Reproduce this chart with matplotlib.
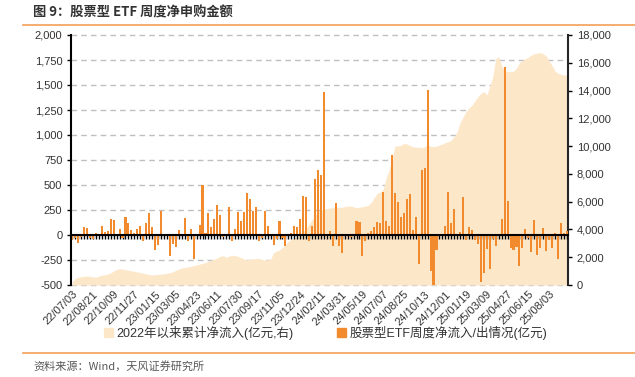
import numpy as np
import pandas as pd
import matplotlib
matplotlib.use('Agg')
import matplotlib.pyplot as plt
from matplotlib.patches import Patch
from matplotlib.lines import Line2D
from matplotlib.ticker import FuncFormatter
import matplotlib.transforms as mtransforms

plt.rcParams['font.family'] = ['Liberation Sans', 'Noto Sans CJK SC']

# ---------------- data ----------------
start_date = '2022-07-03'

weekly_flow = [
    -50, -25, -83, -20, 83, 67, -30, -40, 20, 10,
    90, 30, 40, 157, 150, 5, 60, -30, 180, 117,
    50, 20, 60, 87, -57, 117, 220, 77, -147, -97,
    237, 5, -10, -207, -93, -123, 50, 5, 170, -57,
    57, -237, 5, 100, 505, 25, 220, 77, 160, 297,
    197, -20, -10, 280, -60, 57, 230, 143, 233, 417,
    360, 243, 280, -60, -33, 237, 87, -10, -100, -43,
    140, -33, -107, 5, 20, 93, 80, 160, 387, 377,
    -57, 87, 563, 650, 597, 1433, 0, 40, -107, 323,
    -107, -183, -10, 5, -15, 5, 137, 130, -207, -57,
    23, 40, 83, 130, 117, 427, 143, 90, 797, 420,
    333, 177, 220, 357, 413, 50, 177, -293, 647, 667,
    1447, -357, -500, -150, 10, 0, 93, 430, 123, 263,
    0, 30, 380, -50, 77, 53, -50, -90, -467, -383,
    -143, -340, -43, -107, 10, 160, 1680, 340, -133, -150,
    -117, -307, -133, 57, -33, -173, 147, -200, -133, 73,
    -157, -50, -133, 17, -240, 123, 23, 40,
]

cumulative_flow = [
    200, 480, 540, 600, 620, 650, 620, 580, 560, 630,
    700, 740, 790, 880, 1000, 1120, 1190, 1130, 1100, 1060,
    1020, 980, 940, 890, 850, 800, 750, 720, 740, 760,
    780, 810, 840, 880, 950, 1060, 1140, 1220, 1260, 1300,
    1340, 1390, 1440, 1500, 1560, 1620, 1700, 1800, 1850, 1950,
    2080, 2100, 2000, 2080, 2140, 2120, 2060, 1970, 1870, 1810,
    1860, 1890, 1910, 1920, 1850, 1800, 1820, 1850, 2330, 2430,
    2540, 2700, 2900, 3150, 3280, 3400, 3500, 3600, 3850, 4100,
    4400, 4700, 5000, 5300, 5400, 5450, 5500, 5550, 5570, 5570,
    5570, 5600, 5650, 5680, 5690, 5620, 5570, 5600, 5640, 5680,
    5750, 5950, 6300, 6600, 6680, 6900, 7700, 8300, 9120, 10010,
    10010, 10050, 10200, 10150, 10050, 9960, 9930, 9910, 9890, 9950,
    10080, 10000, 9960, 10000, 10080, 10150, 10250, 10320, 10440, 10700,
    11040, 11700, 12100, 12500, 12750, 12950, 13250, 13550, 13800, 13920,
    13680, 14300, 15000, 16300, 16440, 15800, 15450, 15360, 15360, 15400,
    15600, 16000, 16150, 16300, 16400, 16560, 16650, 16700, 16730, 16650,
    16500, 16150, 15800, 15400, 15250, 15170, 15120, 15120,
]

weeks = pd.date_range(start_date, periods=len(weekly_flow), freq='7D')
week_labels = [d.strftime('%y/%m/%d') for d in weeks]
label_step = 7
left_ticks = np.arange(-500, 2001, 250)
right_ticks = np.arange(0, 18001, 2000)

series_names = ['2022年以来累计净流入(亿元,右)', '股票型ETF周度净流入/出情况(亿元)']
title_text = '图 9：股票型 ETF 周度净申购金额'
source_text = '资料来源：Wind，天风证券研究所'

# ---------------- style ----------------
bar_color = '#F28A2E'
area_color = '#FDE7C9'
rule_color = '#F3A05A'
grid_color = '#BFBFBF'
text_color = '#333333'

W, H = 635, 377
fig = plt.figure(figsize=(W / 100, H / 100), dpi=100)
L, R, B, T = 70.7 / W, 568.3 / W, 1 - 285 / H, 1 - 35 / H
ax = fig.add_axes([L, B, R - L, T - B])
ax2 = ax.twinx()
ax.set_zorder(3)
ax2.set_zorder(2)
ax.patch.set_visible(False)

N = len(weekly_flow)
x = np.arange(N)

# area on right axis
ax2.fill_between(x, 0, cumulative_flow, color=area_color, lw=0, zorder=1)
ax2.set_ylim(0, 18000)
ax2.set_yticks(right_ticks)
ax2.yaxis.set_major_formatter(FuncFormatter(lambda v, p: f'{v:,.0f}'))

# gridlines (left-axis values) beneath the area
ax.set_ylim(-500, 2000)
gtrans = mtransforms.blended_transform_factory(ax2.transAxes, ax.transData)
for v in left_ticks:
    ax2.plot([0, 1], [v, v], transform=gtrans, color=grid_color, lw=1.0,
             dashes=(4, 3), zorder=0.5, clip_on=False)

# bars on left axis
ax.bar(x, weekly_flow, width=0.7, color=bar_color, lw=0, zorder=2)
ax.set_yticks(left_ticks)
ax.yaxis.set_major_formatter(FuncFormatter(lambda v, p: f'{v:,.0f}'))
ax.set_xlim(-0.5, N - 0.5)

# zero axis with comb ticks
ax.spines['bottom'].set_position(('data', 0))
ax.spines['bottom'].set_linewidth(1.5)
ax.spines['bottom'].set_color('black')
ax.set_xticks(x)
ax.set_xticklabels([])
ax.tick_params(axis='x', length=3, width=1.0, color='black', direction='out')

# date labels at the bottom
sec = ax.secondary_xaxis('bottom')
sec.set_xticks(x[::label_step])
sec.set_xticklabels(week_labels[::label_step], rotation=45, ha='right',
                    va='top', rotation_mode='anchor', fontsize=8, color=text_color)
sec.tick_params(length=0, pad=3)
sec.spines['bottom'].set_visible(False)

for a in (ax, ax2):
    a.spines['top'].set_visible(False)
ax.spines['right'].set_visible(False)
ax2.spines['bottom'].set_visible(False)
ax2.spines['left'].set_visible(False)
ax.spines['left'].set_linewidth(1.5)
ax.spines['left'].set_color('black')
ax2.spines['right'].set_linewidth(1.5)
ax2.spines['right'].set_color('#262626')
ax.tick_params(axis='y', length=3, width=1.0, labelsize=8, labelcolor=text_color, pad=3)
ax2.tick_params(axis='y', length=3, width=1.0, labelsize=8, labelcolor=text_color, pad=3)

# legend
handles = [Patch(color=area_color), Patch(color=bar_color)]
fig.legend(handles, series_names, loc='center', bbox_to_anchor=(0.513, 1 - 333 / H),
           ncol=2, frameon=False, fontsize=9, handlelength=0.7, handleheight=0.7,
           handletextpad=0.3, columnspacing=3.5, labelcolor=text_color)

# title, rules, source
fig.text(33 / W, 1 - 12.5 / H, title_text, fontsize=9.5, fontweight='bold',
         color=text_color, va='center', ha='left', family=['Noto Sans CJK SC'])
fig.add_artist(Line2D([23 / W, 1], [1 - 24.5 / H] * 2, color=rule_color, lw=1.2))
fig.add_artist(Line2D([23 / W, 1], [1 - 352.7 / H] * 2, color=rule_color, lw=1.2))
fig.text(33 / W, 1 - 366 / H, source_text, fontsize=8, color='#595959',
         va='center', ha='left', family=['Noto Sans CJK SC'])

fig.savefig('out.png', dpi=100)
